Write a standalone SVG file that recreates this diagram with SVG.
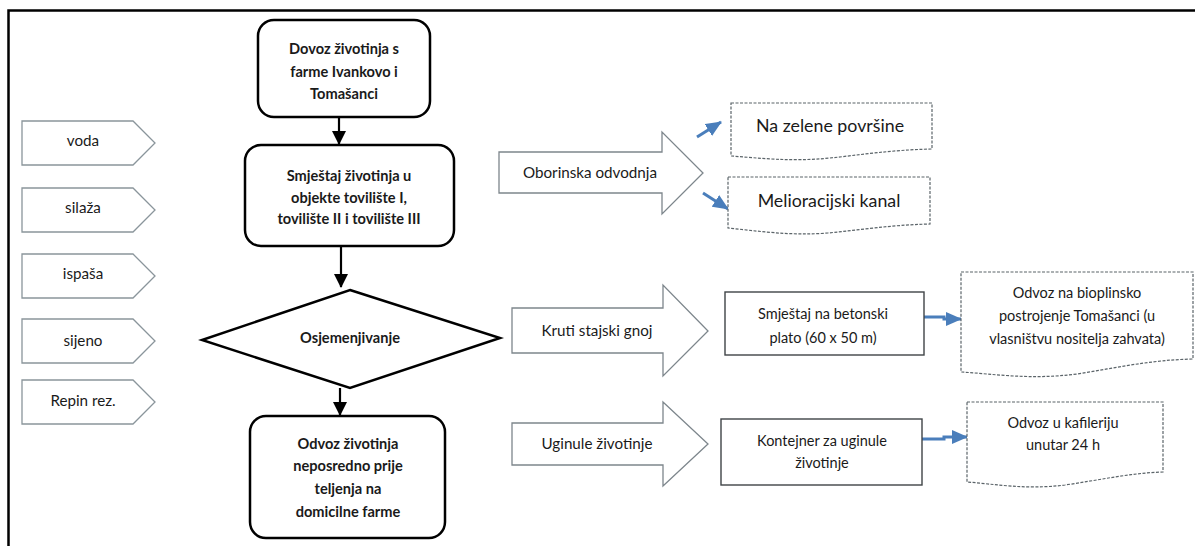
<svg xmlns="http://www.w3.org/2000/svg" width="1195" height="546" viewBox="0 0 1195 546">
<style>
.t{font-family:Lato,"Open Sans","Liberation Sans",sans-serif;fill:#1a1a1a;text-anchor:middle;dominant-baseline:central}
.b{font-weight:bold;font-size:14.6px}
.r{font-size:15.2px}
.s{font-size:14.5px}
.big{font-size:17.8px}
.main{fill:#fff;stroke:#000;stroke-width:2.5}
.pent{fill:#fff;stroke:#8a959b;stroke-width:1.3}
.blk{fill:#fff;stroke:#7d868c;stroke-width:1.3}
.box{fill:#fff;stroke:#3f4447;stroke-width:1.4}
.doc{fill:#fff;stroke:#5b6469;stroke-width:1.2;stroke-dasharray:3 1.5}
.ln{stroke:#000;stroke-width:2.2;fill:none}
.bl{stroke:#4a7ebb;stroke-width:3;fill:none}
</style>
<defs>
<marker id="ah" markerWidth="14" markerHeight="14" refX="13" refY="7" orient="auto" markerUnits="userSpaceOnUse"><path d="M0,0 L14,7 L0,14 Z" fill="#000"/></marker>
<marker id="bh" markerWidth="16" markerHeight="14" refX="15" refY="7" orient="auto" markerUnits="userSpaceOnUse"><path d="M0,0 L16,7 L0,14 Z" fill="#4a7ebb"/></marker>
</defs>
<rect width="1195" height="546" fill="#fff"/>
<path d="M8.5,546 V10.5 H1195" fill="none" stroke="#000" stroke-width="2.5"/>

<g id="connectors">
<line class="ln" x1="339" y1="117" x2="339" y2="144" marker-end="url(#ah)"/>
<line class="ln" x1="341" y1="246" x2="341" y2="287" marker-end="url(#ah)"/>
<line class="ln" x1="340" y1="388" x2="340" y2="415" marker-end="url(#ah)"/>
<line class="bl" x1="697" y1="137" x2="721" y2="122" marker-end="url(#bh)"/>
<line class="bl" x1="703" y1="193" x2="728" y2="209" marker-end="url(#bh)"/>
<path class="bl" d="M924,317 H944 V319 H961" marker-end="url(#bh)"/>
<path class="bl" d="M922,439 H944 V437 H967" marker-end="url(#bh)"/>
</g>

<g id="n-dovoz">
<rect class="main" x="258" y="20" width="172" height="97" rx="16"/>
<text class="t b" x="344" y="48">Dovoz životinja s</text>
<text class="t b" x="344" y="71">farme Ivankovo i</text>
<text class="t b" x="344" y="93">Tomašanci</text>
</g>
<g id="n-smjestaj">
<rect class="main" x="245" y="145" width="209" height="101" rx="16"/>
<text class="t b" x="349" y="175">Smještaj životinja u</text>
<text class="t b" x="349" y="197">objekte tovilište I,</text>
<text class="t b" x="349" y="218">tovilište II i tovilište III</text>
</g>
<g id="n-osjem">
<polygon class="main" points="350,290 500,338 350,388 202,340"/>
<text class="t b" x="350" y="337">Osjemenjivanje</text>
</g>
<g id="n-odvoz">
<rect class="main" x="250" y="416" width="195" height="122" rx="16"/>
<text class="t b" x="348" y="443">Odvoz životinja</text>
<text class="t b" x="348" y="465">neposredno prije</text>
<text class="t b" x="348" y="488">teljenja na</text>
<text class="t b" x="348" y="511">domicilne farme</text>
</g>

<g id="in-voda"><polygon class="pent" points="22,121 133,121 155,143 133,165 22,165"/><text class="t r" x="83" y="140">voda</text></g>
<g id="in-silaza"><polygon class="pent" points="22,188 133,188 155,210 133,232 22,232"/><text class="t r" x="83" y="207">silaža</text></g>
<g id="in-ispasa"><polygon class="pent" points="22,254 133,254 155,276 133,298 22,298"/><text class="t r" x="83" y="273">ispaša</text></g>
<g id="in-sijeno"><polygon class="pent" points="22,319 133,319 155,341 133,363 22,363"/><text class="t r" x="83" y="340">sijeno</text></g>
<g id="in-repin"><polygon class="pent" points="22,380 133,380 155,402 133,424 22,424"/><text class="t r" x="83" y="400">Repin rez.</text></g>

<g id="a-oborinska">
<polygon class="blk" points="499,152 662,152 662,132 703,173 662,214 662,193 499,193"/>
<text class="t r" x="590" y="172">Oborinska odvodnja</text>
</g>
<g id="a-kruti">
<polygon class="blk" points="512,308 663,308 663,285 708,331 663,376 663,353 512,353"/>
<text class="t r" x="597" y="330">Kruti stajski gnoj</text>
</g>
<g id="a-uginule">
<polygon class="blk" points="512,423 663,423 663,402 708,444 663,486 663,465 512,465"/>
<text class="t r" x="597" y="443">Uginule životinje</text>
</g>

<g id="d-zelene">
<path class="doc" d="M731,103 H932 V149 C890,150 860,155 830,158 C790,162 760,158 731,156 Z"/>
<text class="t big" x="830" y="125">Na zelene površine</text>
</g>
<g id="d-melior">
<path class="doc" d="M728,177 H930 V224 C890,225 860,230 828,233 C790,236 758,231 728,228 Z"/>
<text class="t big" x="829" y="200">Melioracijski kanal</text>
</g>

<g id="n-plato">
<rect class="box" x="725" y="292" width="199" height="63"/>
<text class="t s" x="823" y="313">Smještaj na betonski</text>
<text class="t s" x="823" y="337">plato (60 x 50 m)</text>
</g>
<g id="n-kontejner">
<rect class="box" x="721" y="419" width="201" height="66"/>
<text class="t s" x="822" y="440">Kontejner za uginule</text>
<text class="t s" x="822" y="462">životinje</text>
</g>

<g id="d-bioplin">
<path class="doc" d="M961,272 H1193 V359 C1150,360 1115,368 1077,374 C1030,380 995,374 961,372 Z"/>
<text class="t s" x="1077" y="292">Odvoz na bioplinsko</text>
<text class="t s" x="1077" y="315">postrojenje Tomašanci (u</text>
<text class="t s" x="1077" y="338">vlasništvu nositelja zahvata)</text>
</g>
<g id="d-kafilerija">
<path class="doc" d="M967,402 H1163 V472 C1130,473 1100,480 1065,485 C1025,490 995,484 967,482 Z"/>
<text class="t s" x="1063" y="422">Odvoz u kafileriju</text>
<text class="t s" x="1063" y="444">unutar 24  h</text>
</g>
</svg>
